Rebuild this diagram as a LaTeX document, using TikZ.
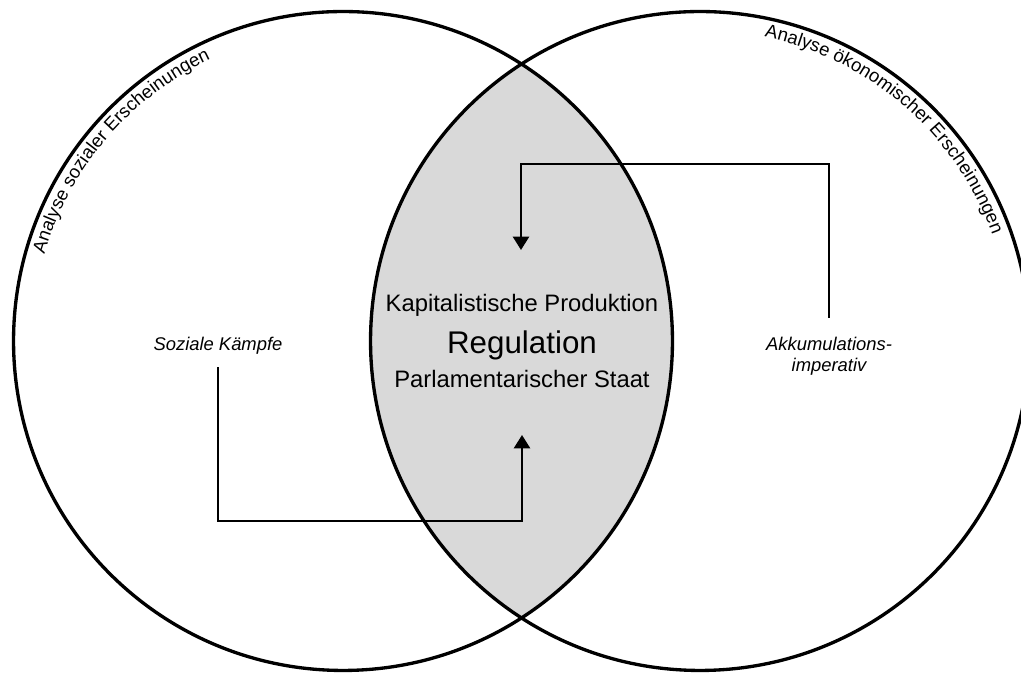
\documentclass[tikz,border=0pt]{standalone}
\usepackage{fontspec}
\setmainfont{Liberation Sans}
\newfontfamily\midfont{Liberation Sans}
\newfontfamily\labfont{Liberation Sans}
\newfontfamily\arcfont{Liberation Sans}
\usetikzlibrary{arrows.meta,decorations.text}
\definecolor{lensgray}{HTML}{D9D9D9}
\begin{document}
\begin{tikzpicture}[x=0.75pt,y=0.75pt,
  ring/.style={draw=black,line width=2.5pt},
  conn/.style={draw=black,line width=1.8pt,-{Triangle[width=12pt,length=10pt]}},
  midtext/.style={inner sep=0pt,anchor=base,font=\midfont\fontsize{17.85pt}{21pt}\selectfont},
  regtext/.style={inner sep=0pt,anchor=base,font=\midfont\fontsize{23.5pt}{28pt}\selectfont},
  labtext/.style={inner sep=0pt,font=\labfont\itshape\fontsize{13.8pt}{15.75pt}\selectfont},
  arctext/.style={decorate,decoration={text along path,text align=center,text={|\arcfont\fontsize{13.9pt}{16pt}\selectfont|#1}}}
]
\useasboundingbox (0,0) rectangle (1021,673);
\clip (0,0) rectangle (1021,673);
\coordinate (L) at (343,332);
\coordinate (R) at (700,332);
\begin{scope}
  \clip (L) circle[radius=247.1pt];
  \fill[lensgray] (R) circle[radius=247.1pt];
\end{scope}
\draw[ring] (L) circle[radius=247.1pt];
\draw[ring] (R) circle[radius=247.1pt];

\path[arctext={Analyse sozialer Erscheinungen}] (L) ++(175:233.25pt) arc[start angle=175,end angle=104,radius=233.25pt];
\path[arctext={Analyse ökonomischer Erscheinungen}] (R) ++(88:233.25pt) arc[start angle=88,end angle=10,radius=233.25pt];

\node[midtext] (kap) at (522,361.5) {Kapitalistische Produktion};
\node[regtext] (reg) at (522,319) {Regulation};
\node[midtext] (par) at (522,285) {Parlamentarischer Staat};
\node[labtext,anchor=base] (soz) at (218,322) {Soziale Kämpfe};
\node[labtext,align=center] (akk) at (829,316.5) {Akkumulations-\\imperativ};

\coordinate (t1) at (521,423);
\coordinate (k1) at (521,509);
\coordinate (t2) at (522,238);
\coordinate (k2) at (522,152);
\draw[conn,shorten <=14.6pt] (akk.north) |- (k1) -- (t1);
\draw[conn,shorten <=9pt] (soz.south) |- (k2) -- (t2);
\end{tikzpicture}
\end{document}
